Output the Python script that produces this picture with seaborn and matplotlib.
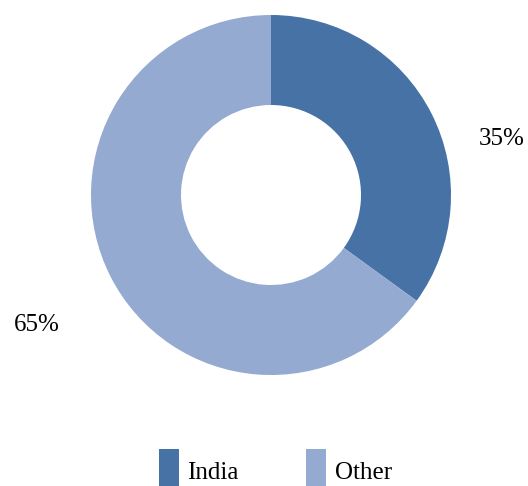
import matplotlib
matplotlib.use("Agg")
import matplotlib.pyplot as plt
from matplotlib.patches import Patch
import seaborn as sns

# Share of total
categories = ["India", "Other"]
values = [35, 65]
pct_labels = ["35%", "65%"]
colors = ["#4672A6", "#95AAD0"]

sns.set_theme(style="white")
plt.rcParams["font.family"] = ["Liberation Serif", "DejaVu Serif"]
plt.rcParams["text.color"] = "black"

fig = plt.figure(figsize=(5.28, 4.86), dpi=100)
ax = fig.add_axes([0, 0, 1, 1])

R = 180.0  # outer radius in pixels
ax.pie(values, colors=colors, startangle=90, counterclock=False,
       radius=1.0, wedgeprops=dict(width=0.5, edgecolor="none"))

# Percentage labels
ax.text(231 / R, 56 / R, pct_labels[0], fontsize=18, ha="center", va="center",
        color="black")
ax.text(-234 / R, -130 / R, pct_labels[1], fontsize=18, ha="center", va="center",
        color="black")

ax.set_xlim(-271 / R, 257 / R)
ax.set_ylim(-291 / R, 195 / R)
ax.set_aspect("equal")
ax.axis("off")

handles = [Patch(facecolor=c, edgecolor="none") for c in colors]
leg = fig.legend(handles, categories, loc="center left",
                 bbox_to_anchor=(159 / 528, 15 / 486), ncol=2, frameon=False,
                 fontsize=18, handlelength=0.78, handleheight=2.3,
                 handletextpad=0.36, columnspacing=2.7, borderpad=0,
                 borderaxespad=0)
for t in leg.get_texts():
    t.set_color("black")

fig.savefig("out.png", dpi=100, facecolor="white")
